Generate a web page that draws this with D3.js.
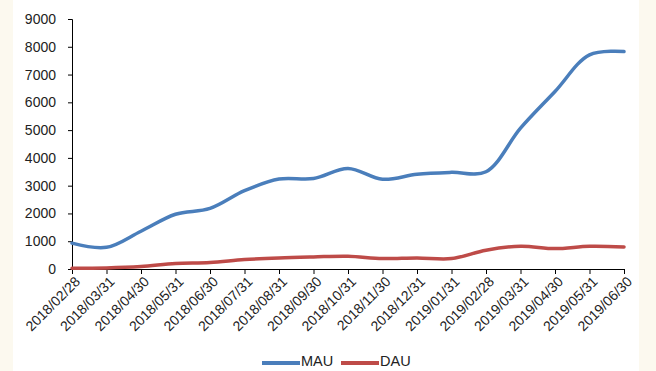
<!DOCTYPE html>
<html>
<head>
<meta charset="utf-8">
<script src="https://cdn.jsdelivr.net/npm/d3@7"></script>
<style>
  body { margin: 0; background: #fcf9ef; }
  svg { display: block; font-family: "Liberation Sans", Arial, sans-serif; }
</style>
</head>
<body>
<script>
var dates = ["2018/02/28", "2018/03/31", "2018/04/30", "2018/05/31", "2018/06/30",
  "2018/07/31", "2018/08/31", "2018/09/30", "2018/10/31", "2018/11/30", "2018/12/31",
  "2019/01/31", "2019/02/28", "2019/03/31", "2019/04/30", "2019/05/31", "2019/06/30"];
var mau = [930, 780, 1360, 1970, 2180, 2820, 3240, 3260, 3620, 3230, 3410, 3480, 3500, 5070, 6390, 7710, 7830];
var dau = [30, 40, 90, 195, 230, 340, 400, 435, 460, 375, 400, 375, 675, 820, 735, 820, 795];
var yTicks = [0, 1000, 2000, 3000, 4000, 5000, 6000, 7000, 8000, 9000];
var series = [
  { name: "MAU", values: mau, color: "#4a7ebb" },
  { name: "DAU", values: dau, color: "#be4b48" }
];

var svgWidth = 656;
var svgHeight = 371;
var Margin = { top: 19, right: 32, bottom: 102, left: 72 };
var Width = svgWidth - Margin.left - Margin.right;
var Height = svgHeight - Margin.top - Margin.bottom;

var svg = d3.select("body")
  .append("svg")
  .attr("width", svgWidth)
  .attr("height", svgHeight);

// white paper area, cream edges
svg.append("rect")
  .attr("x", 13)
  .attr("y", 0)
  .attr("width", 626)
  .attr("height", svgHeight)
  .attr("fill", "#ffffff");

var chartGroup = svg.append("g")
  .attr("transform", `translate(${Margin.left}, ${Margin.top})`);

var xScale = d3.scalePoint()
  .domain(dates)
  .range([0, Width]);

var yScale = d3.scaleLinear()
  .domain([0, 9000])
  .range([Height, 0]);

var leftAxis = d3.axisLeft(yScale)
  .tickValues(yTicks)
  .tickFormat(d3.format("d"))
  .tickSize(4)
  .tickPadding(12);
var bottomAxis = d3.axisBottom(xScale).tickSize(5);

var yAxis = chartGroup.append("g").call(leftAxis);
yAxis.selectAll("text").style("font-size", "14px").attr("fill", "#222");

var xAxis = chartGroup.append("g")
  .attr("transform", `translate(0, ${Height})`)
  .call(bottomAxis);
xAxis.selectAll("text")
  .style("font-size", "14px")
  .attr("fill", "#222")
  .style("text-anchor", "end")
  .attr("x", 0)
  .attr("y", 0)
  .attr("dy", "0.35em")
  .attr("transform", "translate(5, 10) rotate(-45)");

chartGroup.selectAll(".domain, .tick line").attr("stroke", "#000");

var line = d3.line()
  .x((d, i) => xScale(dates[i]))
  .y(d => yScale(d))
  .curve(d3.curveCatmullRom.alpha(0.5));

chartGroup.selectAll(".series")
  .data(series)
  .enter()
  .append("path")
  .attr("class", "series")
  .attr("d", d => line(d.values))
  .attr("fill", "none")
  .attr("stroke", d => d.color)
  .attr("stroke-width", 3.5)
  .attr("stroke-linecap", "round");

// legend
var legend = svg.append("g").attr("transform", "translate(262, 363)");
var items = legend.selectAll("g")
  .data(series)
  .enter()
  .append("g")
  .attr("transform", (d, i) => `translate(${i * 79}, 0)`);
items.append("line")
  .attr("x1", 0).attr("x2", 38)
  .attr("y1", 0).attr("y2", 0)
  .attr("stroke", d => d.color)
  .attr("stroke-width", 4);
items.append("text")
  .attr("x", 39)
  .attr("y", 3)
  .style("font-size", "14.5px")
  .attr("fill", "#222")
  .text(d => d.name);
</script>
</body>
</html>
